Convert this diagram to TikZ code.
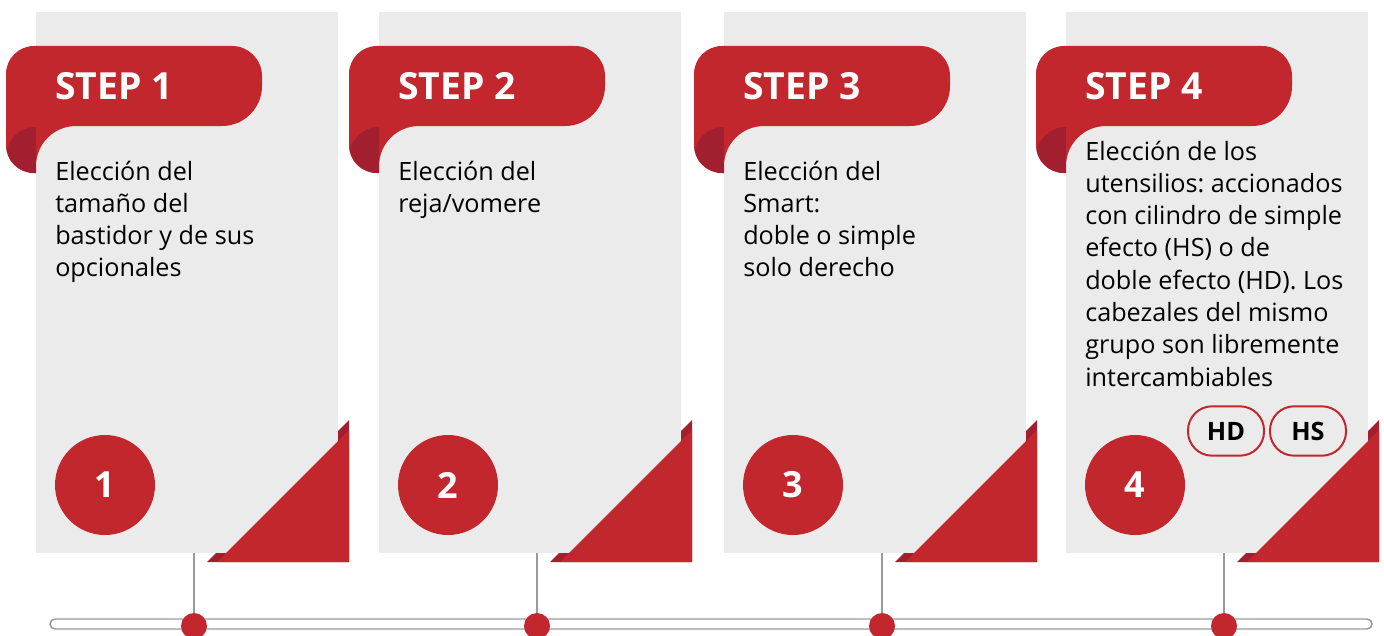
\documentclass[tikz,border=0pt]{standalone}
\usepackage{fontspec}
\setmainfont{Open Sans}
\frenchspacing
\usetikzlibrary{positioning}
\definecolor{tred}{HTML}{C1272D}
\definecolor{tdark}{HTML}{A21F2F}
\definecolor{tpanel}{HTML}{EBEBEB}
\definecolor{tline}{HTML}{9A9A9A}
\tikzset{
  ttext/.style={font=\fontsize{18.9}{24.2}\selectfont, anchor=base west,
                align=left, inner sep=0pt},
  ttitle/.style={font=\bfseries\fontsize{28}{34}\selectfont, text=white,
                 anchor=base west, inner sep=0pt},
  tnum/.style={circle, fill=tred, text=white, minimum size=75pt, inner sep=0pt,
               font=\bfseries\fontsize{27}{30}\selectfont},
  tdot/.style={circle, fill=tred, minimum size=19.5pt, inner sep=0pt},
  tpill/.style={draw=tred, line width=1.5pt, fill=tpanel, rounded corners=18pt,
                minimum width=57pt, minimum height=37pt, inner sep=0pt,
                font=\bfseries\fontsize{19}{22}\selectfont},
  tconn/.style={draw=tline, line width=1.5pt},
}

\begin{document}
\begin{tikzpicture}[x=0.75pt,y=-0.75pt]
  \useasboundingbox (0,0) rectangle (1384,635);

  % paneles, cintas y numeros
  \foreach \i/\dx in {1/0, 2/343, 3/688, 4/1030} {
    \begin{scope}[shift={(\dx,0)}]
      \fill[tdark] (207,562) -- (349,562) -- (349,420) -- cycle;
      \fill[tpanel] (36,12) rectangle (338,553);
      \fill[tred] (217,562) -- (349,562) -- (349,430) -- cycle;
      % cinta
      \fill[tred] (36,173) [rounded corners=21pt] -- (6,173) -- (6,46)
        [rounded corners=22.5pt] -- (262,46) [rounded corners=30pt] -- (262,126)
        -- (36,126) [sharp corners] -- cycle;
      \begin{scope}
        \clip (36,173) [rounded corners=21pt] -- (6,173) -- (6,46)
          [sharp corners] -- (36,46) -- cycle;
        \clip (0,126) rectangle (36,180);
        \fill[tdark] (36,157) circle[radius=30];
      \end{scope}
      \node[ttitle] (s\i) at (55,99) {STEP \i};
      \node[tnum] (n\i) at (105,485) {\i};
      \coordinate (b\i) at (194,553);
    \end{scope}
  }

  % textos (base de la ultima linea)
  \node[ttext] (t1) at (55,276.8) {Elección del\\tamaño del\\bastidor y de sus\\opcionales};
  \node[ttext] (t2) at (398,212.3) {Elección del\\reja/vomere};
  \node[ttext] (t3) at (743,276.8) {Elección del\\Smart:\\doble o simple\\solo derecho};
  \node[ttext] (t4) at (1085,386) {Elección de los\\utensilios: accionados\\con cilindro de simple\\efecto (HS) o de\\doble efecto (HD). Los\\cabezales del mismo\\grupo son libremente\\intercambiables};

  \node[tpill] (hd) at (1226,431) {HD};
  \node[tpill, right=3pt of hd] (hs) {HS};

  % linea de tiempo
  \draw[tline, line width=1.1pt, fill=white, rounded corners=3.75pt]
    (50,619) rectangle (1372,629);
  \foreach \i/\dx in {1/0, 2/343, 3/688, 4/1030} {
    \node[tdot] (d\i) at (194+\dx,626) {};
    \draw[tconn] (b\i) -- (d\i);
  }

\end{tikzpicture}
\end{document}
